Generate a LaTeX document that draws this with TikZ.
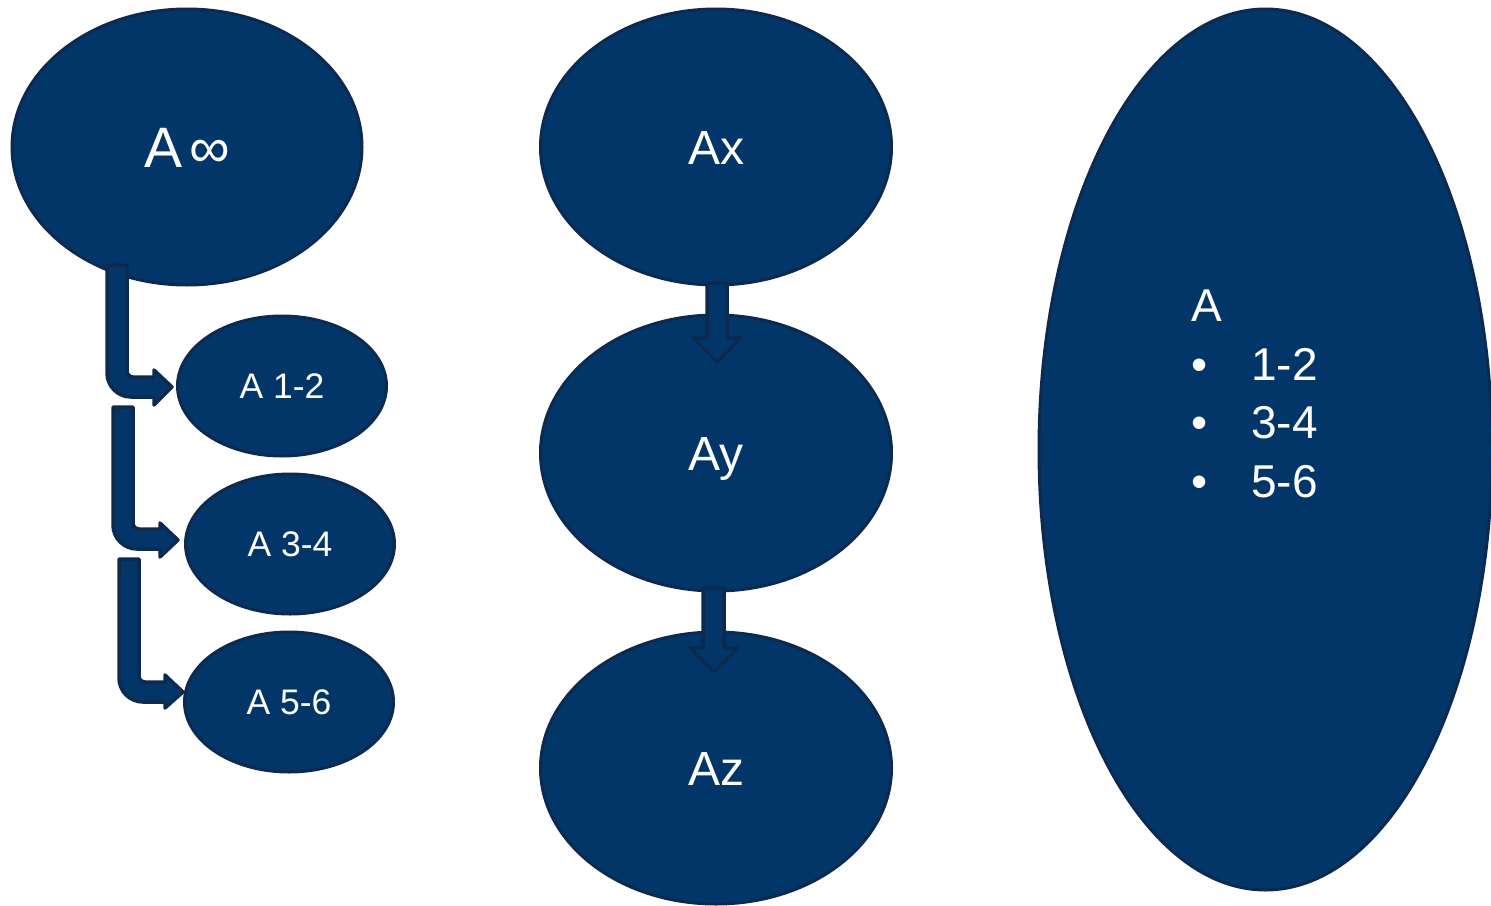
\documentclass[tikz,border=0pt]{standalone}
\usepackage{fontspec}
\setmainfont{Liberation Sans}
\usetikzlibrary{shapes.geometric}
\definecolor{fillblue}{RGB}{3,54,104}
\definecolor{edgeblue}{RGB}{12,42,80}
\begin{document}
\begin{tikzpicture}[x=1pt,y=-1pt,
  oval/.style={ellipse, draw=edgeblue, fill=fillblue, line width=3pt, inner sep=0pt, text=white, text depth=0pt},
  bigtxt/.style={font=\fontsize{48}{50}\selectfont, text height=34.5pt},
  smalltxt/.style={font=\fontsize{35.5}{38}\selectfont, text height=25.5pt},
  smalloval/.style={oval, smalltxt, minimum width=209pt, minimum height=140pt},
  midoval/.style={oval, bigtxt, minimum width=351pt, minimum height=276pt},
  blockarrow/.style={draw=edgeblue, fill=fillblue, line width=3.5pt, line join=round}]
\useasboundingbox (0,0) rectangle (1491,905);

% ellipses
\node[oval, minimum width=350pt, minimum height=276pt, font=\fontsize{57}{60}\selectfont, text height=41pt] (inf) at (187,147) {A\hspace{7pt}∞};
\node[smalloval] (a12) at (282,386) {A 1-2};
\node[smalloval] (a34) at (290,544) {A 3-4};
\node[smalloval] (a56) at (289,702) {A 5-6};
\node[midoval] (ax) at (716,147) {Ax};
\node[midoval] (ay) at (716,453) {Ay};
\node[midoval, minimum height=272pt] (az) at (716,768) {Az};
\node[oval, minimum width=453pt, minimum height=881pt] (big) at (1265.5,449.5) {};
\node[anchor=north west, text=white, align=left, inner sep=0pt,
      font=\fontsize{46}{58.5}\selectfont] (list) at (1191,290)
  {A\\ \makebox[60pt][l]{\textbullet}1-2\\ \makebox[60pt][l]{\textbullet}3-4\\ \makebox[60pt][l]{\textbullet}5-6};

% bent block arrows (left column)
\draw[blockarrow] (107,265) -- (107,373) arc(180:90:24) -- (154,397) -- (154,405) -- (172,387)
  -- (154,370) -- (154,377) -- (133,377) arc(90:180:6) -- (127,265) -- cycle;
\draw[blockarrow] (113,407) -- (113,525) arc(180:90:24) -- (160,549) -- (160,557) -- (178,540)
  -- (160,523) -- (160,529) -- (139,529) arc(90:180:6) -- (133,407) -- cycle;
\draw[blockarrow] (119,559) -- (119,678) arc(180:90:24) -- (165,702) -- (165,708) -- (183,692)
  -- (165,675) -- (165,682) -- (145,682) arc(90:180:6) -- (139,559) -- cycle;

% straight block arrows (middle column)
\draw[blockarrow] (707,283) -- (707,338) -- (693,338) -- (717,362) -- (741,338) -- (727,338) -- (727,283) -- cycle;
\draw[blockarrow] (703,588) -- (703,648) -- (690,648) -- (714,672) -- (738,648) -- (724,648) -- (724,588) -- cycle;
\end{tikzpicture}
\end{document}
